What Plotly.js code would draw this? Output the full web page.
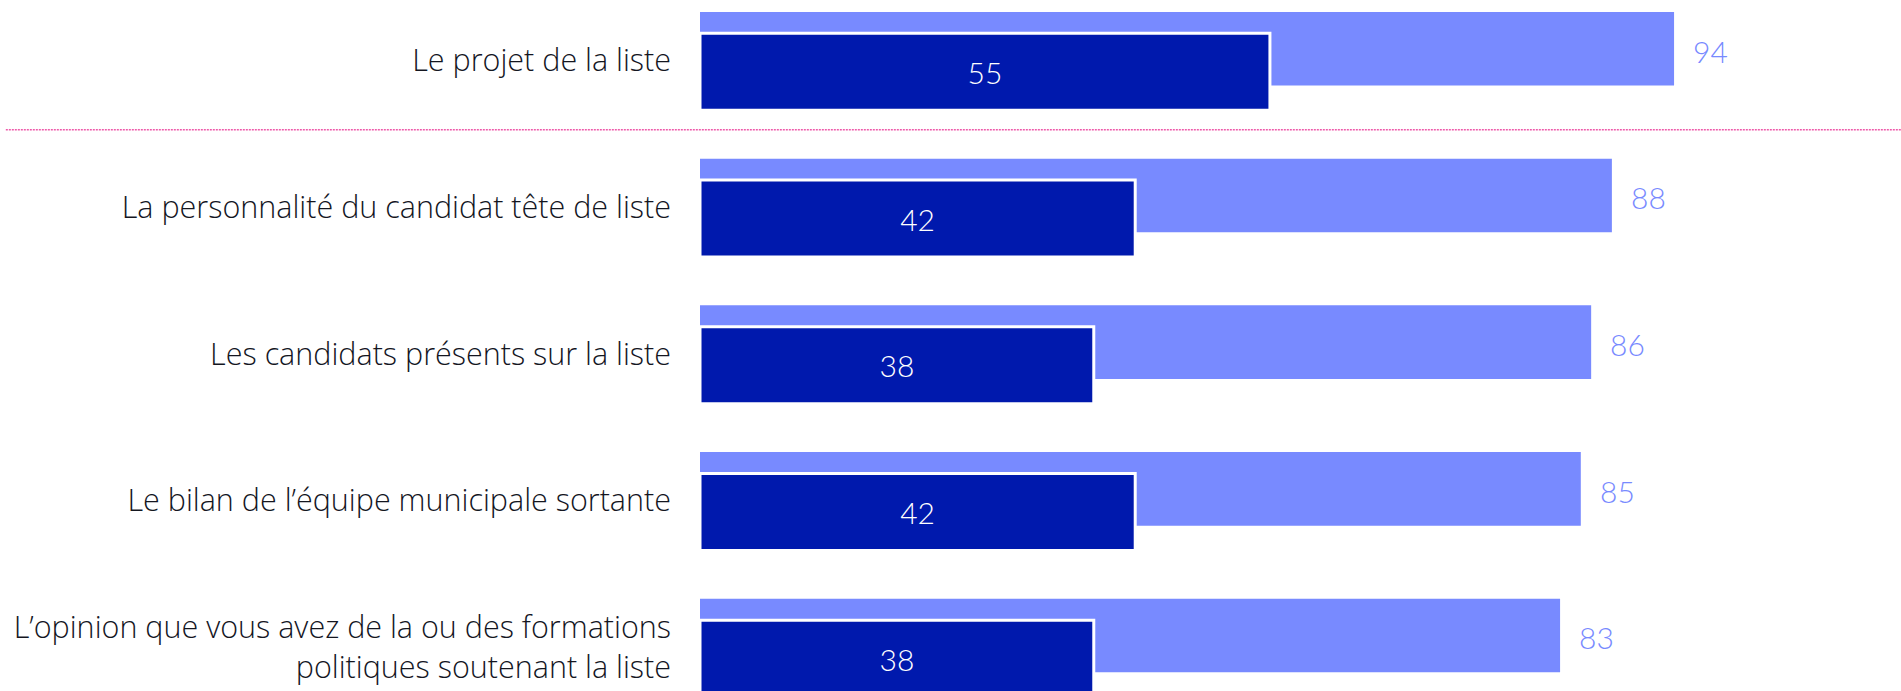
<!DOCTYPE html>
<html>
<head>
<meta charset="utf-8">
<script src="https://cdn.plot.ly/plotly-3.0.1.min.js"></script>
<style>html,body{margin:0;padding:0;background:#fff;}#chart{width:1901px;height:691px;}</style>
</head>
<body>
<div id="chart"></div>
<script>
// Data
var categories = [
  "Le projet de la liste",
  "La personnalité du candidat tête de liste",
  "Les candidats présents sur la liste",
  "Le bilan de l’équipe municipale sortante",
  "L’opinion que vous avez de la ou des formations<br>politiques soutenant la liste"
];
var totalValues = [94, 88, 86, 85, 83];   // light bars
var firstValues = [55, 42, 38, 42, 38];   // dark bars

var LIGHT = "#788AFF";
var DARK = "#0019AD";
var FONT = "Lato, 'Open Sans', sans-serif";
var LABEL_FONT = "'Open Sans', Lato, sans-serif";

var traceTotal = {
  type: "bar",
  orientation: "h",
  y: categories,
  x: totalValues,
  offset: -0.331,
  width: 0.502,
  marker: {color: LIGHT, line: {width: 0}},
  hoverinfo: "skip",
  textposition: "none"
};

var traceFirst = {
  type: "bar",
  orientation: "h",
  y: categories,
  x: firstValues,
  offset: -0.185,
  width: 0.525,
  marker: {color: DARK, line: {color: "#ffffff", width: 3}},
  text: firstValues.map(String),
  textposition: "inside",
  insidetextanchor: "middle",
  constraintext: "none",
  textfont: {family: FONT, size: 30, color: "#ffffff", weight: 300},
  hoverinfo: "skip"
};

var valueAnnotations = categories.map(function (c, i) {
  return {
    x: totalValues[i],
    y: c,
    xref: "x",
    yref: "y",
    text: String(totalValues[i]),
    showarrow: false,
    xanchor: "left",
    yanchor: "middle",
    xshift: 17,
    yshift: 10,
    font: {family: FONT, size: 30, color: LIGHT, weight: 300}
  };
});

var layout = {
  width: 1901,
  height: 691,
  margin: {l: 700, r: 0, t: 0, b: 0, pad: 0},
  paper_bgcolor: "#ffffff",
  plot_bgcolor: "#ffffff",
  barmode: "overlay",
  showlegend: false,
  xaxis: {
    range: [0, 115.9],
    showgrid: false,
    zeroline: false,
    showline: false,
    showticklabels: false,
    ticks: "",
    fixedrange: true
  },
  yaxis: {
    type: "category",
    range: [4.298, -0.4124],
    showgrid: false,
    zeroline: false,
    showline: false,
    ticks: "",
    ticklabelstandoff: 28,
    tickfont: {family: LABEL_FONT, size: 30.5, color: "#14161f", weight: 300},
    fixedrange: true
  },
  shapes: [{
    type: "line",
    xref: "paper",
    yref: "paper",
    x0: -0.578,
    x1: 1,
    y0: 1 - 129.7 / 691,
    y1: 1 - 129.7 / 691,
    line: {color: "#EE5AAA", width: 1.5, dash: "2px,1px"}
  }],
  annotations: valueAnnotations
};

Plotly.newPlot("chart", [traceTotal, traceFirst], layout, {displayModeBar: false, staticPlot: true});
</script>
</body>
</html>
